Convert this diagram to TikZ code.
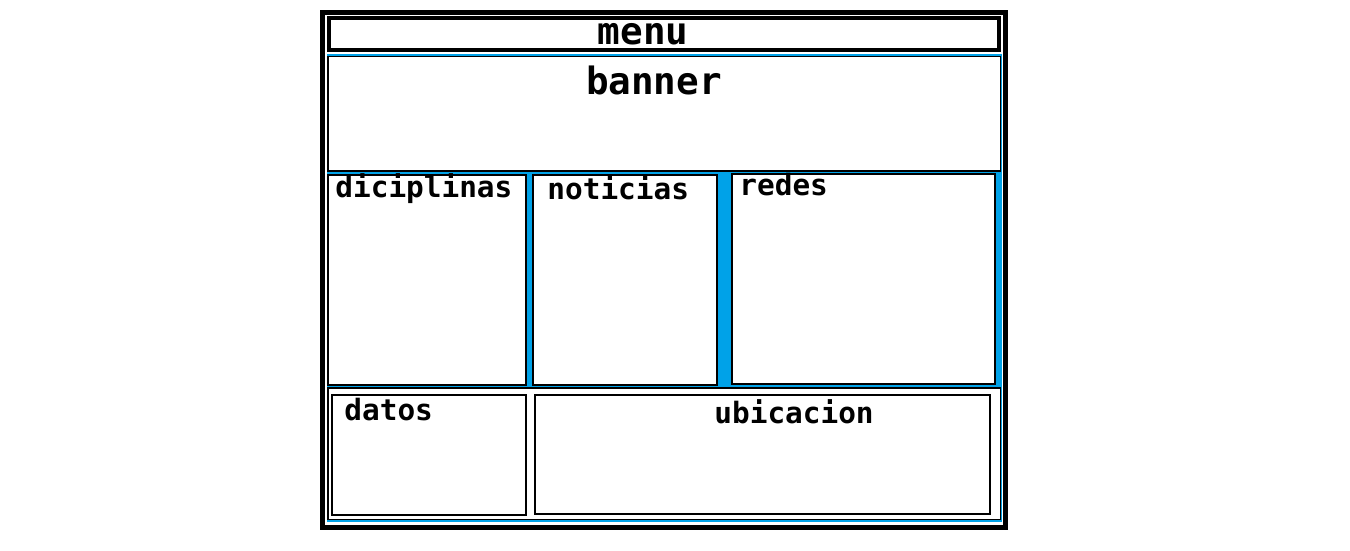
\documentclass[tikz,border=0pt]{standalone}
\usepackage{fontspec}
\setmonofont{DejaVu Sans Mono}
\definecolor{paintblue}{RGB}{0,162,232}
\tikzset{
  box/.style={draw=black, line width=0.6pt, fill=white},
  big/.style={font=\ttfamily\bfseries\fontsize{18.8}{20}\selectfont, inner sep=0pt},
  small/.style={font=\ttfamily\bfseries\fontsize{14.7}{16}\selectfont, inner sep=0pt, anchor=base west}
}
\begin{document}
\begin{tikzpicture}[x=0.5pt, y=-0.5pt]

\useasboundingbox (0,0) rectangle (1350,551);

% Frame
\draw[line width=2.5pt] (322.5,12.5) rectangle (1005.5,527.5);

% Menu bar
\draw[line width=2pt] (329,18) rectangle (999,50.5);
\node[big, anchor=base] (menu) at (643,45) {menu};

% Blue area
\fill[paintblue] (326.5,54) rectangle (1002,521.5);

% Banner
\draw[box] (328,56.5) rectangle (1000.5,171);
\node[big, anchor=base] (banner) at (654,95) {banner};

% Middle row
\draw[box] (328,175) rectangle (526,385);
\draw[box] (533,175) rectangle (717,385);
\draw[box] (732,174) rectangle (995,384);
\node[small] (diciplinas) at (335,198) {diciplinas};
\node[small] (noticias) at (547,199) {noticias};
\node[small] (redes) at (739,196) {redes};

% Bottom row
\draw[box] (328,388) rectangle (1000.5,519.5);
\draw[box] (332,395) rectangle (526,515);
\draw[box] (535,395) rectangle (990,514);
\node[small] (datos) at (344,420) {datos};
\node[small] (ubicacion) at (714,423) {ubicacion};

\end{tikzpicture}
\end{document}
